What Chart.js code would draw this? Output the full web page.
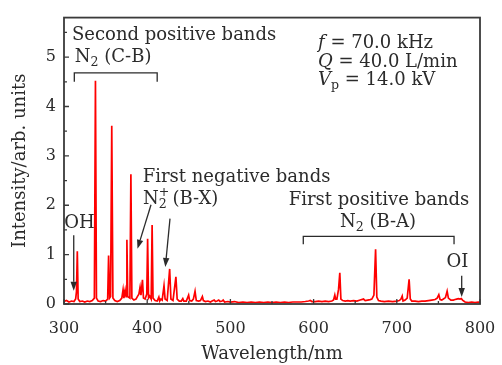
<!DOCTYPE html>
<html>
<head>
<meta charset="utf-8">
<script src="https://cdn.jsdelivr.net/npm/chart.js@4.4.0/dist/chart.umd.min.js"></script>
<style>
  body { margin: 0; background: #fff; }
  canvas { display: block; }
</style>
</head>
<body>
<canvas id="spectrumCanvas" width="502" height="365"></canvas>
<script>
// emission spectrum, wavelength in nm / intensity in arb. units
const wavelengths = [
  300, 303, 306, 309, 312, 314, 315, 316, 317, 319,
  322, 325, 328, 331, 334, 336.5, 337.8, 339, 341, 344,
  347, 350, 352.5, 353.6, 354.8, 356, 357.4, 358.8, 361, 364,
  367, 369.5, 371, 372, 373.5, 374.6, 375.6, 376.6, 379.2, 380.4,
  381.6, 384, 386.5, 388.5, 390, 391.4, 392.5, 394.3, 395.5, 397.5,
  399.5, 400.5, 401.6, 403, 404.8, 405.9, 407, 409.5, 412, 414,
  415, 416.5, 418, 420.2, 421.5, 424, 427, 428.5, 431, 434.5,
  436, 438.5, 441, 442.8, 444, 447, 449.8, 451, 453.5, 455.5,
  457.5, 459, 462, 464, 466.3, 467.5, 470, 473, 476, 478,
  480.5, 482, 484, 486, 487.5, 490, 491.3, 493, 497, 500,
  505, 510, 515, 520, 525, 530, 535, 540, 545, 550,
  555, 560, 565, 570, 575, 580, 585, 590, 594, 596,
  598, 602, 606, 610, 614, 618, 622, 624, 625.5, 626.5,
  628, 630, 631.5, 632.8, 635, 638, 641, 644, 648, 652,
  656, 660, 662, 665, 668, 670, 672.5, 674.5, 676, 678,
  681, 685, 690, 695, 700, 703, 705, 706.5, 707.5, 710,
  712.5, 714.8, 716.2, 718, 722, 726, 730, 734, 738, 742,
  746, 748.5, 750.5, 752, 754, 756, 758.5, 760.5, 762, 765,
  768, 770, 772, 774, 776, 777.5, 779, 782, 786, 790,
  794, 798, 800
];
const intensities = [
  0.05, 0.07, 0.04, 0.06, 0.05, 0.10, 0.25, 1.07, 0.10, 0.05,
  0.06, 0.04, 0.06, 0.05, 0.07, 0.12, 4.52, 0.12, 0.06, 0.05,
  0.07, 0.06, 0.10, 0.98, 0.12, 0.15, 3.61, 0.12, 0.07, 0.05,
  0.07, 0.12, 0.29, 0.12, 0.28, 0.15, 1.30, 0.15, 0.12, 2.63,
  0.12, 0.08, 0.10, 0.16, 0.20, 0.34, 0.18, 0.49, 0.12, 0.10,
  0.20, 1.32, 0.12, 0.16, 0.10, 1.60, 0.12, 0.07, 0.06, 0.14,
  0.06, 0.10, 0.08, 0.37, 0.10, 0.07, 0.71, 0.10, 0.07, 0.55,
  0.10, 0.06, 0.06, 0.11, 0.06, 0.06, 0.18, 0.07, 0.06, 0.10,
  0.26, 0.07, 0.06, 0.07, 0.15, 0.07, 0.05, 0.06, 0.04, 0.06,
  0.08, 0.05, 0.06, 0.08, 0.05, 0.06, 0.08, 0.04, 0.05, 0.04,
  0.05, 0.03, 0.04, 0.03, 0.04, 0.03, 0.04, 0.03, 0.04, 0.03,
  0.04, 0.03, 0.04, 0.03, 0.04, 0.04, 0.04, 0.05, 0.06, 0.07,
  0.05, 0.05, 0.06, 0.05, 0.06, 0.05, 0.06, 0.08, 0.18, 0.10,
  0.10, 0.30, 0.63, 0.10, 0.07, 0.06, 0.07, 0.06, 0.07, 0.06,
  0.08, 0.10, 0.07, 0.08, 0.09, 0.10, 0.18, 1.11, 0.14, 0.07,
  0.06, 0.05, 0.06, 0.05, 0.06, 0.07, 0.10, 0.16, 0.06, 0.08,
  0.12, 0.50, 0.10, 0.06, 0.06, 0.05, 0.06, 0.06, 0.07, 0.08,
  0.09, 0.12, 0.19, 0.09, 0.08, 0.10, 0.13, 0.26, 0.12, 0.08,
  0.08, 0.09, 0.10, 0.11, 0.10, 0.11, 0.08, 0.04, 0.03, 0.04,
  0.03, 0.04, 0.03
];
const xTicks = [300, 400, 500, 600, 700, 800];
const yTicks = [0, 1, 2, 3, 4, 5];

const FONT = "DejaVu Serif";
const INK = "#2b2b2b";

const ctx = document.querySelector("#spectrumCanvas");

function fontOf(part, size) {
  let s = part.sub || part.sup ? size * 0.7 : size;
  return (part.it ? "italic " : "") + s + "px " + FONT;
}

// draws a run of text pieces, with sub/superscripts
function richText(c, parts, px, py, align, size) {
  let widths = parts.map((p) => {
    c.font = fontOf(p, size);
    return p.over ? 0 : c.measureText(p.t).width;
  });
  let total = widths.reduce((a, b) => a + b, 0);
  let cx = align === "center" ? px - total / 2 : px;
  let lastX = cx;
  parts.forEach((p, i) => {
    c.font = fontOf(p, size);
    let dy = p.sub ? size * 0.3 : p.sup ? -size * 0.35 : 0;
    let drawX = p.over ? lastX : cx;
    c.fillText(p.t, drawX, py + dy);
    lastX = cx;
    cx += widths[i];
  });
}

function arrow(c, x1, y1, x2, y2) {
  let ang = Math.atan2(y2 - y1, x2 - x1);
  let len = 9, half = 3.2;
  let bx = x2 - Math.cos(ang) * len, by = y2 - Math.sin(ang) * len;
  c.beginPath();
  c.moveTo(x1, y1);
  c.lineTo(bx, by);
  c.stroke();
  c.beginPath();
  c.moveTo(x2, y2);
  c.lineTo(bx - Math.sin(ang) * half, by + Math.cos(ang) * half);
  c.lineTo(bx + Math.sin(ang) * half, by - Math.cos(ang) * half);
  c.closePath();
  c.fill();
}

function bracket(c, x1, x2, yTop, yLeg) {
  c.beginPath();
  c.moveTo(x1, yLeg);
  c.lineTo(x1, yTop);
  c.lineTo(x2, yTop);
  c.lineTo(x2, yLeg);
  c.stroke();
}

const framePlugin = {
  id: "frame",
  afterDraw(chart) {
    const { ctx: c, chartArea: a, scales } = chart;
    c.save();
    c.strokeStyle = "#3a3a3a";
    c.lineWidth = 1.8;
    c.strokeRect(a.left, a.top, a.right - a.left, a.bottom - a.top);
    c.lineWidth = 1.3;
    c.beginPath();
    for (let v = 300; v <= 800; v += 50) {
      let px = scales.x.getPixelForValue(v);
      let l = v % 100 === 0 ? 5 : 3;
      c.moveTo(px, a.bottom);
      c.lineTo(px, a.bottom - l);
    }
    for (let v = 0; v <= 5.5; v += 0.5) {
      let py = scales.y.getPixelForValue(v);
      let l = v % 1 === 0 ? 5 : 3;
      c.moveTo(a.left, py);
      c.lineTo(a.left + l, py);
    }
    c.stroke();
    c.restore();
  },
};

const annotationPlugin = {
  id: "bandLabels",
  afterDatasetsDraw(chart) {
    const c = chart.ctx;
    const x = (v) => chart.scales.x.getPixelForValue(v);
    const y = (v) => chart.scales.y.getPixelForValue(v);
    const size = 18;
    c.save();
    c.fillStyle = INK;
    c.strokeStyle = INK;
    c.lineWidth = 1.3;
    c.textBaseline = "middle";
    c.textAlign = "left";

    richText(c, [{ t: "Second positive bands" }], x(309.6), y(5.44), "left", size);
    richText(c, [{ t: "N" }, { t: "2", sub: true }, { t: " (C-B)" }], x(313), y(5.0), "left", size);
    bracket(c, x(312.4), x(412), y(4.68), y(4.5));

    richText(c, [{ t: "f", it: true }, { t: " = 70.0 kHz" }], x(605.3), y(5.27), "left", size);
    richText(c, [{ t: "Q", it: true }, { t: " = 40.0 L/min" }], x(605.3), y(4.89), "left", size);
    richText(c, [{ t: "V", it: true }, { t: "p", sub: true }, { t: " = 14.0 kV" }], x(605.3), y(4.52), "left", size);

    richText(c, [{ t: "First negative bands" }], x(394.6), y(2.57), "left", size);
    richText(c, [{ t: "N" }, { t: "2", sub: true }, { t: "+", sup: true, over: true }, { t: " (B-X)" }], x(395), y(2.12), "left", size);
    arrow(c, x(404.6), y(2.01), x(388.3), y(1.12));
    arrow(c, x(427.4), y(1.73), x(421.8), y(0.75));

    richText(c, [{ t: "OH" }], x(300.2), y(1.63), "left", size);
    arrow(c, x(311.7), y(1.39), x(311.7), y(0.27));

    richText(c, [{ t: "First positive bands" }], x(678.6), y(2.1), "center", size);
    richText(c, [{ t: "N" }, { t: "2", sub: true }, { t: " (B-A)" }], x(677.4), y(1.66), "center", size);
    bracket(c, x(587.6), x(768.8), y(1.37), y(1.21));

    richText(c, [{ t: "OI" }], x(773), y(0.845), "center", size);
    arrow(c, x(778), y(0.57), x(778), y(0.14));
    c.restore();
  },
};

new Chart(ctx, {
  type: "line",
  data: {
    datasets: [
      {
        data: wavelengths.map((w, i) => ({ x: w, y: intensities[i] })),
        borderColor: "rgb(255 0 0)",
        borderWidth: 1.7,
        pointRadius: 0,
        tension: 0,
      },
    ],
  },
  options: {
    responsive: false,
    animation: false,
    layout: { padding: { left: 0, right: 22, top: 9, bottom: 0 } },
    plugins: { legend: { display: false }, tooltip: { enabled: false } },
    scales: {
      x: {
        type: "linear",
        min: 300,
        max: 800,
        afterBuildTicks: (s) => { s.ticks = xTicks.map((v) => ({ value: v })); },
        afterFit: (s) => {
          s.height = 61;
          s.paddingLeft = 0;
          s.paddingRight = 0;
        },
        grid: { display: false, drawTicks: false },
        border: { display: false },
        ticks: { color: INK, padding: 15, font: { family: FONT, size: 16 } },
        title: {
          display: true,
          text: "Wavelength/nm",
          color: INK,
          padding: { top: 0, bottom: 0 },
          font: { family: FONT, size: 18 },
        },
      },
      y: {
        min: 0,
        max: 5.8,
        afterBuildTicks: (s) => { s.ticks = yTicks.map((v) => ({ value: v })); },
        afterFit: (s) => { s.width = 64; },
        grid: { display: false, drawTicks: false },
        border: { display: false },
        ticks: { color: INK, padding: 8, font: { family: FONT, size: 16 } },
        title: {
          display: true,
          text: "Intensity/arb. units",
          color: INK,
          padding: { top: 10, bottom: 0 },
          font: { family: FONT, size: 18 },
        },
      },
    },
  },
  plugins: [framePlugin, annotationPlugin],
});
</script>
</body>
</html>
